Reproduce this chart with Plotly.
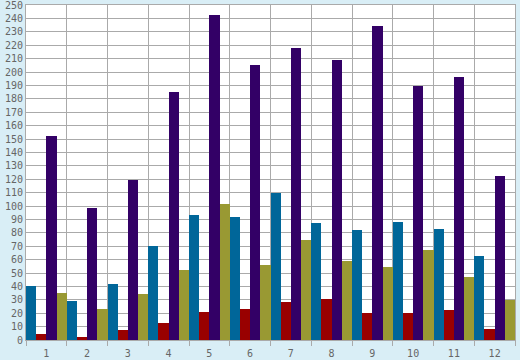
import plotly.graph_objects as go

categories = ["1", "2", "3", "4", "5", "6", "7", "8", "9", "10", "11", "12"]
series_blue = [40, 29, 42, 70, 93, 92, 110, 87, 82, 88, 83, 63]
series_red = [4.5, 2, 7.5, 12.5, 21, 23.5, 28, 30.5, 20.5, 20.5, 22.5, 8]
series_purple = [152, 98.5, 119.5, 185, 242.5, 205, 218, 209, 234, 189.5, 196.5, 122.5]
series_olive = [35, 23, 34.5, 52.5, 101.5, 56, 74.5, 59, 54.5, 67, 47, 30]
y_ticks = list(range(0, 251, 10))

colors = ["#006699", "#990000", "#330066", "#999933"]
names = ["Series 1", "Series 2", "Series 3", "Series 4"]
data = [series_blue, series_red, series_purple, series_olive]

fig = go.Figure()
for name, vals, col in zip(names, data, colors):
    fig.add_trace(go.Bar(x=categories, y=vals, name=name, marker=dict(color=col, line=dict(width=0))))

grid = "#aaaaaa"
font = dict(family="DejaVu Sans Mono", size=10, color="#666666")
fig.update_layout(
    width=520, height=360,
    margin=dict(l=26, r=5, t=5, b=20),
    paper_bgcolor="#d9eef6",
    plot_bgcolor="#ffffff",
    barmode="group", bargap=0, bargroupgap=0,
    showlegend=False,
    font=font,
)
fig.update_xaxes(
    type="category", range=[-0.5, len(categories) - 0.5], autorange=False,
    tickson="boundaries", ticks="outside", ticklen=5, tickcolor=grid,
    showgrid=True, gridcolor=grid, gridwidth=1,
    showline=True, linecolor=grid, mirror=True, layer="below traces",
    automargin=False, ticklabelstandoff=4, ticklabeloverflow="allow",
    tickfont=font,
)
fig.update_yaxes(
    range=[0, 250], autorange=False, tickvals=y_ticks, ticktext=[str(v) for v in y_ticks],
    showgrid=True, gridcolor=grid, gridwidth=1, zeroline=False,
    showline=True, linecolor=grid, mirror=True, ticks="", layer="below traces",
    automargin=False, ticklabeloverflow="allow",
    tickfont=font,
)

fig.write_html(
    "out.html",
    config={"displayModeBar": False},
    post_script="document.body.style.margin='0';document.body.style.background='#d9eef6';",
)
